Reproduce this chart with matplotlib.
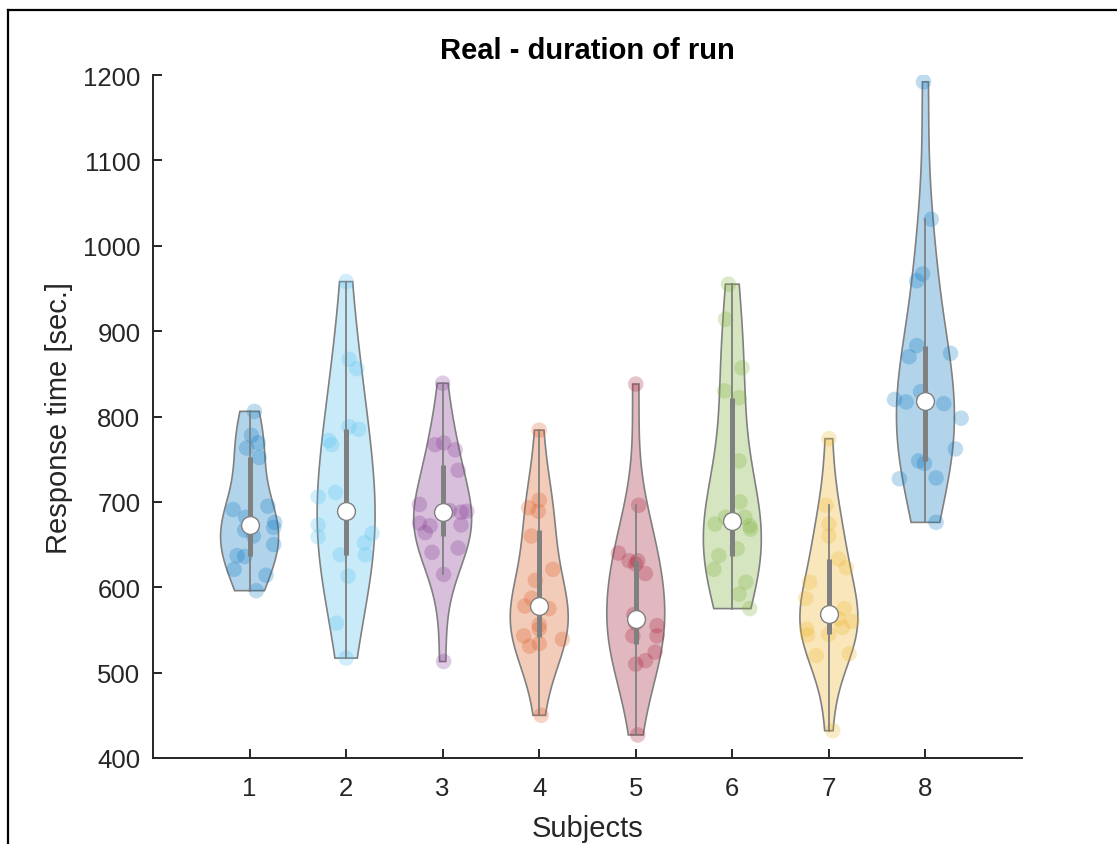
import matplotlib.pyplot as plt
import numpy as np
from matplotlib.colors import to_rgba
from matplotlib.lines import Line2D

plt.rcParams["font.family"] = ["Liberation Sans", "DejaVu Sans"]

subjects = ["1", "2", "3", "4", "5", "6", "7", "8"]

# run durations per subject [sec.] and the horizontal scatter offsets of each point
dur_1 = [806, 778, 763, 769, 752, 691, 695, 682, 676, 670, 660, 667, 650, 637, 636, 621, 614, 596]
jit_1 = [0.05, 0.02, -0.03, 0.09, 0.10, -0.17, 0.19, -0.04, 0.26, 0.25, 0.04, -0.05, 0.25, -0.13, -0.05, -0.16, 0.17, 0.07]

dur_2 = [958, 867, 856, 788, 785, 772, 767, 706, 711, 673, 659, 663, 652, 638, 638, 613, 558, 517]
jit_2 = [0.0, 0.03, 0.11, 0.03, 0.13, -0.18, -0.15, -0.29, -0.11, -0.29, -0.29, 0.27, 0.19, 0.20, -0.06, 0.02, -0.10, 0.0]

dur_3 = [839, 767, 769, 761, 737, 697, 688, 689, 690, 675, 672, 664, 673, 641, 646, 615, 513]
jit_3 = [0.0, -0.08, 0.01, 0.13, 0.16, -0.24, 0.19, 0.25, 0.07, -0.24, -0.13, -0.18, 0.19, -0.11, 0.16, 0.01, 0.01]

dur_4 = [784, 702, 693, 689, 660, 621, 608, 587, 578, 575, 556, 551, 543, 531, 534, 539, 450]
jit_4 = [0.0, 0.0, -0.11, -0.01, -0.08, 0.14, -0.04, -0.08, -0.15, 0.10, 0.0, 0.0, -0.16, -0.10, 0.0, 0.24, 0.02]

dur_5 = [838, 696, 640, 631, 631, 627, 616, 568, 558, 555, 543, 543, 524, 514, 510, 427]
jit_5 = [0.0, 0.03, -0.18, -0.07, 0.02, 0.0, 0.10, -0.02, 0.0, 0.22, 0.22, -0.03, 0.20, 0.10, 0.0, 0.02]

dur_6 = [955, 914, 857, 830, 822, 748, 700, 674, 682, 682, 668, 672, 645, 637, 621, 606, 592, 575]
jit_6 = [-0.04, -0.07, 0.10, -0.08, 0.07, 0.07, 0.08, -0.18, -0.07, 0.13, 0.19, 0.18, 0.05, -0.14, -0.19, 0.14, 0.07, 0.18]

dur_7 = [774, 696, 674, 660, 633, 623, 606, 587, 575, 563, 553, 560, 551, 544, 545, 520, 522, 432]
jit_7 = [0.0, -0.03, 0.0, 0.0, 0.10, 0.18, -0.20, -0.24, 0.16, 0.10, 0.14, 0.24, -0.23, -0.22, 0.0, -0.13, 0.21, 0.04]

dur_8 = [1192, 1031, 959, 967, 883, 870, 874, 829, 820, 817, 815, 798, 762, 748, 745, 727, 728, 676]
jit_8 = [-0.02, 0.06, -0.09, -0.03, -0.09, -0.17, 0.26, -0.05, -0.32, -0.20, 0.19, 0.37, 0.31, -0.07, -0.01, -0.27, 0.11, 0.11]

durations = [dur_1, dur_2, dur_3, dur_4, dur_5, dur_6, dur_7, dur_8]
jitters = [jit_1, jit_2, jit_3, jit_4, jit_5, jit_6, jit_7, jit_8]

colors = ["#0072bd", "#4dbeee", "#7e2f8e", "#d95319", "#a2142f", "#77ac30", "#edb120", "#0072bd"]
gray = "#808080"
violin_width = 0.3


def kde(data, grid, smooth=1.25):
    # gaussian kernel, bandwidth from the normal rule with a MAD spread estimate
    n = len(data)
    sig = np.median(np.abs(data - np.median(data))) / 0.6745
    bw = smooth * sig * (4 / (3 * n)) ** 0.2
    z = (grid[:, None] - data[None, :]) / bw
    return np.exp(-0.5 * z**2).sum(axis=1) / (n * bw * np.sqrt(2 * np.pi))


fig = plt.figure(figsize=(11.17, 8.45), dpi=100)
ax = fig.add_axes([153 / 1117, 1 - 759 / 845, (1022 - 153) / 1117, (759 - 76) / 845])

for i, (vals, jit, col) in enumerate(zip(durations, jitters, colors)):
    pos = i + 1
    data = np.asarray(vals, dtype=float)
    grid = np.linspace(data.min(), data.max(), 200)
    dens = kde(data, grid)
    dens = dens / dens.max() * violin_width

    xs = np.concatenate([pos + dens, pos - dens[::-1]])
    ys = np.concatenate([grid, grid[::-1]])
    ax.fill(xs, ys, facecolor=to_rgba(col, 0.3), edgecolor=gray, linewidth=1.2, zorder=1)

    ax.scatter(pos + np.asarray(jit), data, s=125, color=col, alpha=0.25,
               edgecolors="none", zorder=2)

    q1, med, q3 = np.quantile(data, [0.25, 0.5, 0.75], method="hazen")
    iqr = q3 - q1
    lo = max(q1 - 1.5 * iqr, data[data > q1 - 1.5 * iqr].min())
    hi = min(q3 + 1.5 * iqr, data[data < q3 + 1.5 * iqr].max())
    ax.plot([pos, pos], [lo, hi], color=gray, linewidth=1.3, zorder=3)
    ax.plot([pos, pos], [q1, q3], color=gray, linewidth=3.6,
            solid_capstyle="butt", zorder=3)
    ax.scatter([pos], [med], s=165, color="white", edgecolors=gray,
               linewidths=1.0, zorder=4)

ax.set_xlim(0, 9)
ax.set_ylim(400, 1200)
ax.set_xticks(range(1, 9))
ax.set_xticklabels(subjects)
ax.set_yticks(range(400, 1201, 100))

for side in ["top", "right"]:
    ax.spines[side].set_visible(False)
for side in ["left", "bottom"]:
    ax.spines[side].set_color("#262626")
    ax.spines[side].set_linewidth(1.4)
ax.tick_params(direction="in", length=6.5, width=1.4, color="#262626",
               labelsize=18.5, labelcolor="#262626")
ax.tick_params(axis="x", pad=13)
ax.tick_params(axis="y", pad=9)

ax.set_xlabel("Subjects", fontsize=21, color="#262626", labelpad=10)
ax.set_ylabel("Response time [sec.]", fontsize=21, color="#262626", labelpad=7)
ax.set_title("Real - duration of run", fontsize=21, fontweight="bold", pad=12)

# black frame around the figure
fig.add_artist(Line2D([8 / 1117, 8 / 1117], [0, 1 - 11 / 845],
                      transform=fig.transFigure, color="black", linewidth=1.6))
fig.add_artist(Line2D([8 / 1117, 1], [1 - 11 / 845, 1 - 11 / 845],
                      transform=fig.transFigure, color="black", linewidth=1.6))

fig.savefig("out.png", dpi=100)
